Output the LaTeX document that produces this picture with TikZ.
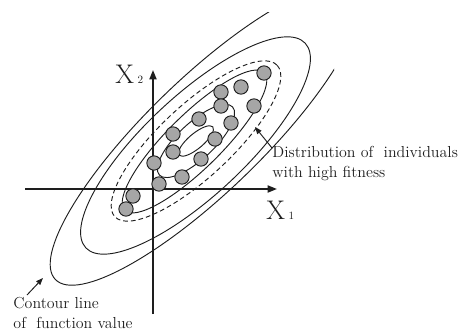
\documentclass[tikz,border=0pt]{standalone}
\usetikzlibrary{arrows.meta, positioning}
\definecolor{cink}{HTML}{1E1E1E}
\definecolor{cdot}{HTML}{A6A6A6}
\tikzset{
  every picture/.style={line width=0.8pt},
  contour/.style={draw=cink, line width=0.8pt},
  fitline/.style={contour, dash pattern=on 4pt off 2.6pt},
  indiv/.style={circle, draw=cink, fill=cdot, line width=0.8pt, minimum size=0.43cm, inner sep=0pt},
  axis/.style={-{Triangle[length=8pt, width=6pt]}, draw=cink, line width=1.5pt},
  pointer/.style={-{Triangle[length=6pt, width=4.5pt]}, draw=cink, line width=0.8pt},
  note/.style={font=\fontsize{13.6}{17}\selectfont, text=cink, align=left, inner sep=0pt},
  axislabel/.style={font=\fontsize{23}{23}\selectfont, text=cink, inner sep=0pt},
}

\begin{document}
\begin{tikzpicture}[x=0.03cm, y=-0.03cm]
  \useasboundingbox (0,0) rectangle (468,331);
  % ---- contour lines of the function ----
  \begin{scope}
    \clip (0,12) rectangle (334,331);
    \draw[contour, rotate around={44:(205,135)}] (205,135) ellipse [x radius=208, y radius=57];
  \end{scope}
  \draw[contour, rotate around={43:(195.5,145.5)}] (195.5,145.5) ellipse [x radius=150, y radius=50];
  \draw[contour, rotate around={44.6:(194.5,141.5)}] (194.5,141.5) ellipse [x radius=98, y radius=27];
  \draw[contour, rotate around={43:(196,141)}] (196,141) ellipse [x radius=50, y radius=18];
  \draw[contour, rotate around={40:(196,141)}] (196,141) ellipse [x radius=22, y radius=7.5];
  % dashed boundary of the selected individuals
  \draw[fitline, rotate around={43:(196,141)}] (196,141) ellipse [x radius=111, y radius=36];
  % ---- axes ----
  \coordinate (yfoot) at (153,314);
  \coordinate (ytip) at (153,70);
  \coordinate (xfoot) at (25,189);
  \coordinate (xtip) at (277,189);
  \draw[axis] (yfoot) -- (ytip);
  \draw[axis] (xfoot) -- (xtip);
  \node[axislabel, anchor=base west] (x2lab) at (115,83) {X\hspace{3pt}{\fontsize{9.5}{9.5}\selectfont 2}};
  \node[axislabel, anchor=base west] (x1lab) at (266,219) {X\hspace{3pt}{\fontsize{9.5}{9.5}\selectfont 1}};
  % ---- individuals ----
  \foreach \px/\py [count=\k] in {264/73, 241/87, 221/92, 221/106, 254/106, 199/119, 231/123, 173/134,
                                  215/139, 173/152, 201/159, 154/163, 182/177, 159/184, 133/196, 126/209}
    \node[indiv] (ind\k) at (\px,\py) {};
  % ---- notes ----
  \node[note, anchor=north west] (dist) at (272,146) {Distribution of\ \ individuals\\with high fitness};
  \coordinate (disttip) at (255,127);
  \draw[pointer] ([yshift=-0.06cm]dist.north west) -- (disttip);
  \node[note, anchor=north west] (cont) at (13,297) {Contour line\\of\ \ function value};
  \coordinate (conttip) at (43,278);
  \draw[pointer] ([xshift=0.42cm, yshift=0.06cm]cont.north west) -- (conttip);
\end{tikzpicture}
\end{document}
